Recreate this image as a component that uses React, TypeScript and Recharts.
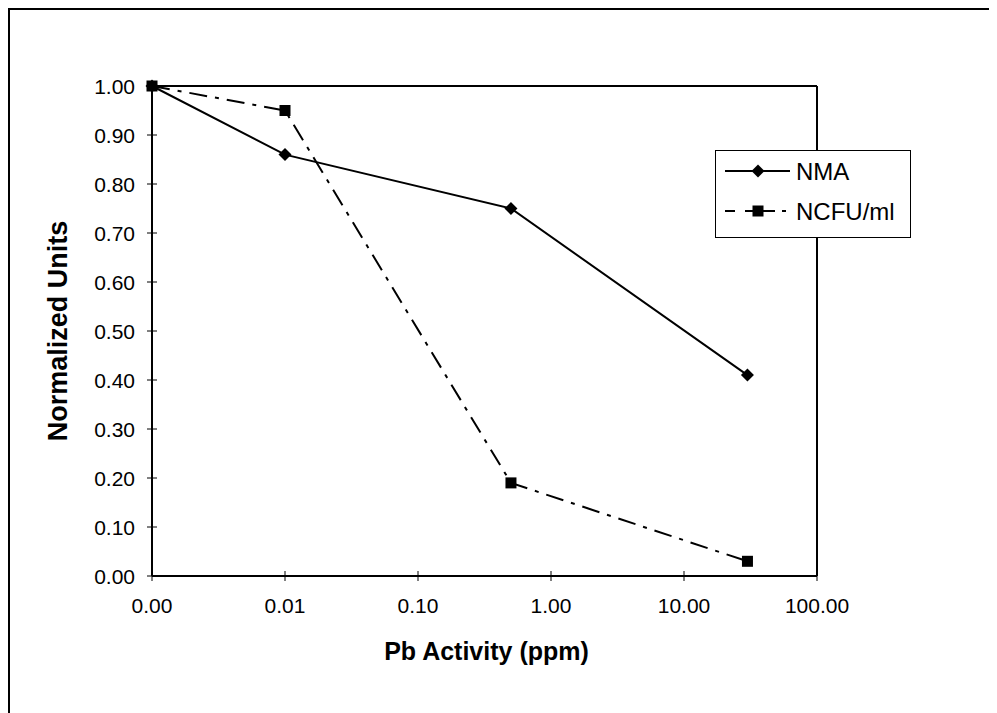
import React from 'react'
import { LineChart, Line, XAxis, YAxis, ReferenceLine, Label } from 'recharts'

const pbActivity = [0.001, 0.01, 0.5, 30]
const nmaValues = [1.0, 0.86, 0.75, 0.41]
const ncfuValues = [1.0, 0.95, 0.19, 0.03]

const xTicks = [0.001, 0.01, 0.1, 1, 10, 100]
const yTicks = [0, 0.1, 0.2, 0.3, 0.4, 0.5, 0.6, 0.7, 0.8, 0.9, 1.0]

const seriesNames = ['NMA', 'NCFU/ml']

const FONT = '"Liberation Sans", Arial, Helvetica, sans-serif'
const DASH = '18 8 4 8'

const chartData = pbActivity.map((x, i) => ({
  x,
  nma: nmaValues[i],
  ncfu: ncfuValues[i],
}))

const fmt = (v: number) => v.toFixed(2)

function YTick({ x, y, payload }: any) {
  const axisX = x + 17
  return (
    <g>
      <line x1={axisX - 5} x2={axisX + 5} y1={y} y2={y} stroke="#000" strokeWidth={1} />
      <text x={x} y={y} textAnchor="end" dominantBaseline="central" fontSize={21} fontFamily={FONT} fill="#000">
        {fmt(payload.value)}
      </text>
    </g>
  )
}

function XTick({ x, y, payload }: any) {
  const axisY = y - 21
  return (
    <g>
      <line x1={x} x2={x} y1={axisY - 5} y2={axisY + 5} stroke="#000" strokeWidth={1} />
      <text x={x} y={y + 16} textAnchor="middle" fontSize={21} fontFamily={FONT} fill="#000">
        {fmt(payload.value)}
      </text>
    </g>
  )
}

function Diamond({ cx, cy, index }: any) {
  if (cx == null || cy == null) return <g key={`d${index}`} />
  const r = 6.5
  return (
    <path
      key={`d${index}`}
      d={`M${cx},${cy - r}L${cx + r},${cy}L${cx},${cy + r}L${cx - r},${cy}Z`}
      fill="#000"
    />
  )
}

function Square({ cx, cy, index }: any) {
  if (cx == null || cy == null) return <g key={`s${index}`} />
  const s = 11
  return <rect key={`s${index}`} x={cx - s / 2} y={cy - s / 2} width={s} height={s} fill="#000" />
}

function YTitle({ viewBox }: any) {
  const cx = viewBox.x + 48
  const cy = viewBox.y + viewBox.height / 2
  return (
    <text
      x={cx}
      y={cy}
      transform={`rotate(-90 ${cx} ${cy})`}
      textAnchor="middle"
      dominantBaseline="central"
      fontSize={27}
      fontWeight="bold"
      fontFamily={FONT}
      fill="#000"
    >
      Normalized Units
    </text>
  )
}

function XTitle({ viewBox }: any) {
  const cx = viewBox.x + viewBox.width / 2 + 2
  const cy = viewBox.y + 84
  return (
    <text x={cx} y={cy} textAnchor="middle" fontSize={25} fontWeight="bold" fontFamily={FONT} fill="#000">
      Pb Activity (ppm)
    </text>
  )
}

function LegendBox() {
  return (
    <div
      style={{
        position: 'absolute',
        left: 705,
        top: 140,
        width: 196,
        height: 88,
        boxSizing: 'border-box',
        border: '1px solid #000',
        background: '#fff',
      }}
    >
      <svg width={194} height={86} style={{ display: 'block' }}>
        <line x1={9} x2={74} y1={20} y2={20} stroke="#000" strokeWidth={2} />
        <Diamond cx={42} cy={20} index={0} />
        <text x={80} y={20} dominantBaseline="central" fontSize={24} fontFamily={FONT} fill="#000">
          {seriesNames[0]}
        </text>
        <line x1={9} x2={74} y1={60} y2={60} stroke="#000" strokeWidth={2} strokeDasharray="10 10 30 7 4 20" />
        <Square cx={42} cy={60} index={1} />
        <text x={80} y={60} dominantBaseline="central" fontSize={24} fontFamily={FONT} fill="#000">
          {seriesNames[1]}
        </text>
      </svg>
    </div>
  )
}

export default function App() {
  return (
    <div
      style={{
        position: 'relative',
        width: 989,
        height: 705,
        boxSizing: 'border-box',
        borderTop: '2px solid #000',
        borderLeft: '2px solid #000',
        background: '#fff',
      }}
    >
      <LineChart width={987} height={703} data={chartData} margin={{ top: 76, right: 180, bottom: 0, left: 0 }}>
        <XAxis
          dataKey="x"
          type="number"
          scale="log"
          domain={[0.001, 100]}
          ticks={xTicks}
          interval={0}
          height={137}
          tickSize={5}
          tickMargin={16}
          tickLine={false}
          tick={<XTick />}
          axisLine={{ stroke: '#000', strokeWidth: 2 }}
        >
          <Label content={<XTitle />} />
        </XAxis>
        <YAxis
          type="number"
          domain={[0, 1]}
          ticks={yTicks}
          interval={0}
          width={142}
          tickSize={5}
          tickMargin={12}
          tickLine={false}
          tick={<YTick />}
          axisLine={{ stroke: '#000', strokeWidth: 2 }}
        >
          <Label content={<YTitle />} />
        </YAxis>
        <ReferenceLine y={1} stroke="#000" strokeWidth={2} />
        <ReferenceLine x={100} stroke="#000" strokeWidth={2} />
        <Line
          type="linear"
          dataKey="nma"
          name={seriesNames[0]}
          stroke="#000"
          strokeWidth={2}
          dot={Diamond}
          activeDot={false}
          isAnimationActive={false}
        />
        <Line
          type="linear"
          dataKey="ncfu"
          name={seriesNames[1]}
          stroke="#000"
          strokeWidth={2}
          strokeDasharray={DASH}
          dot={Square}
          activeDot={false}
          isAnimationActive={false}
        />
      </LineChart>
      <LegendBox />
    </div>
  )
}
